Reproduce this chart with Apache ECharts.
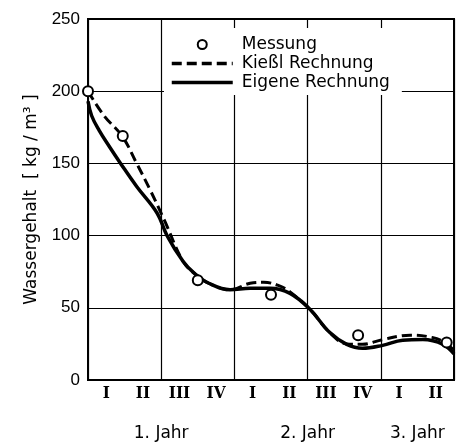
<!DOCTYPE html>
<html>
<head>
<meta charset="utf-8">
<script src="https://cdn.jsdelivr.net/npm/echarts@6/dist/echarts.min.js"></script>
<style>
html,body{margin:0;padding:0;background:#fff;}
#chart{width:457px;height:442px;}
</style>
</head>
<body>
<div id="chart"></div>
<script>
// quarters since start (x), water content kg/m3 (y)
var messungQ = [0, 0.95, 3.0, 5.0, 7.38, 9.8];
var messungV = [200, 169, 69, 59, 31, 26];

var kiesslQ = [0, 0.44, 0.93, 1.33, 1.71, 2.08, 2.6, 2.9, 3.3, 3.88, 4.43, 4.8, 5.25, 5.52, 6.07, 6.6, 7.07, 7.5, 8.05, 8.8, 9.4, 9.75, 10];
var kiesslV = [200, 183, 169, 150, 131, 111, 82, 74, 67, 62.5, 67, 67.7, 65, 61, 48.8, 33, 25, 24.7, 28, 31, 29.5, 26, 20.5];

var eigeneQ = [0, 0.1, 0.3, 0.6, 0.89, 1.33, 1.89, 2.16, 2.6, 2.9, 3.3, 3.88, 4.43, 4.97, 5.52, 6.07, 6.6, 7.07, 7.5, 8.05, 8.6, 9.15, 9.7, 10];
var eigeneV = [193, 183, 173, 161, 150, 134, 115.5, 100, 82, 74, 67, 62.5, 63.6, 63.6, 60, 48.8, 33, 24.7, 22, 24, 27.5, 28, 24.7, 18];

var quarterLabels = ['I', 'II', 'III', 'IV', 'I', 'II', 'III', 'IV', 'I', 'II'];
var yearLabels = ['1. Jahr', '2. Jahr', '3. Jahr'];
var yearPositions = [2, 6, 9];
var yTicks = [0, 50, 100, 150, 200, 250];

function pairs(xs, ys) { return xs.map(function (x, i) { return [x, ys[i]]; }); }

var chart = echarts.init(document.getElementById('chart'), null, { renderer: 'canvas' });
var font = 'Liberation Sans, Arial, sans-serif';
var wide = 'DejaVu Sans, sans-serif';
chart.setOption({
  backgroundColor: '#fff',
  animation: false,
  grid: { left: 88, right: 3, top: 19, bottom: 59, show: true, borderColor: '#000', borderWidth: 2, backgroundColor: 'transparent' },
  legend: {
    left: 164, top: 28,
    orient: 'vertical',
    backgroundColor: '#fff',
    padding: [8, 12, 4, 6],
    itemWidth: 61, itemHeight: 9, itemGap: 2,
    textStyle: { fontSize: 17, color: '#000', fontFamily: wide, padding: [0, 0, 0, 4] },
    data: [
      { name: 'Messung' },
      { name: 'Kießl Rechnung', itemStyle: { opacity: 0 }, lineStyle: { width: 3.5 } },
      { name: 'Eigene Rechnung', itemStyle: { opacity: 0 }, lineStyle: { width: 3.5 } }
    ]
  },
  xAxis: [
    {
      type: 'value', min: 0, max: 10, interval: 2,
      axisLine: { show: true, lineStyle: { color: '#000', width: 2 } },
      axisTick: { show: false },
      axisLabel: { show: false },
      splitLine: { show: true, lineStyle: { color: '#000', width: 1.2 } }
    },
    {
      type: 'category', position: 'bottom', data: quarterLabels, boundaryGap: true,
      axisLine: { show: false }, axisTick: { show: false }, splitLine: { show: false },
      axisLabel: { margin: 5, fontSize: 17, fontWeight: 'bold', color: '#000', fontFamily: 'DejaVu Serif Condensed, Liberation Serif, serif', interval: 0 }
    },
    {
      type: 'value', position: 'bottom', min: 0, max: 10, interval: 1,
      axisLine: { show: false }, axisTick: { show: false }, splitLine: { show: false },
      axisLabel: {
        margin: 45, fontSize: 17, color: '#000', fontFamily: wide, showMinLabel: true, showMaxLabel: true,
        formatter: function (v) { var i = yearPositions.indexOf(v); return i >= 0 ? yearLabels[i] : ''; }
      }
    }
  ],
  yAxis: {
    type: 'value', min: yTicks[0], max: yTicks[yTicks.length - 1], interval: 50,
    name: 'Wassergehalt  [ kg / m³ ]', nameLocation: 'middle', nameRotate: 90, nameGap: 48,
    nameTextStyle: { fontSize: 17, color: '#000', fontFamily: wide },
    axisLine: { show: true, lineStyle: { color: '#000', width: 2 } },
    axisTick: { show: false },
    axisLabel: { fontSize: 17, color: '#000', fontFamily: font, margin: 8 },
    splitLine: { show: true, lineStyle: { color: '#000', width: 1.2 } }
  },
  series: [
    {
      name: 'Kießl Rechnung', type: 'line', smooth: 0.4, showSymbol: false, symbol: 'none',
      data: pairs(kiesslQ, kiesslV), z: 3,
      lineStyle: { color: '#000', width: 3, type: [10, 5] }, itemStyle: { color: '#000' }
    },
    {
      name: 'Eigene Rechnung', type: 'line', smooth: 0.4, showSymbol: false, symbol: 'none',
      data: pairs(eigeneQ, eigeneV), z: 4,
      lineStyle: { color: '#000', width: 3.5 }, itemStyle: { color: '#000' }
    },
    {
      name: 'Messung', type: 'scatter', symbol: 'circle', symbolSize: 10,
      data: pairs(messungQ, messungV), z: 6,
      itemStyle: { color: '#fff', borderColor: '#000', borderWidth: 2, opacity: 1 }
    }
  ]
});
</script>
</body>
</html>
